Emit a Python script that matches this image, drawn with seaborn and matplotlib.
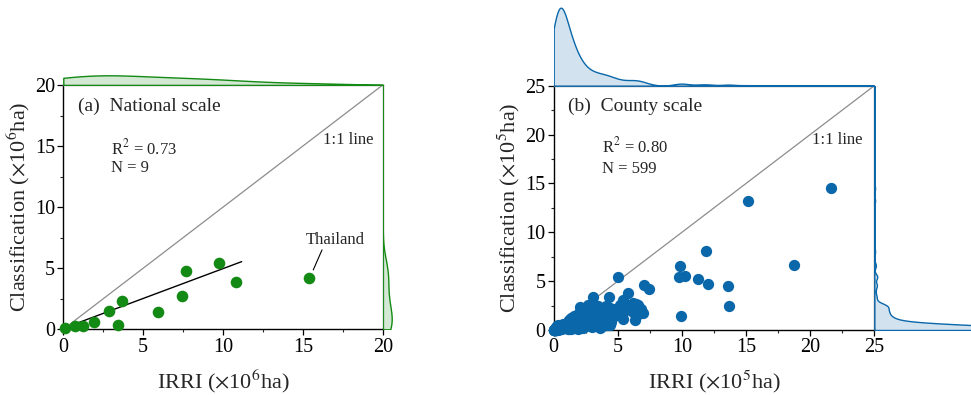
import numpy as np
import pandas as pd
import matplotlib
matplotlib.use("Agg")
import matplotlib.pyplot as plt
from matplotlib.ticker import MultipleLocator, AutoMinorLocator
import seaborn as sns

# ---------------- data ----------------
# (a) national scale (x10^6 ha)
nat_irri = [0.10, 0.73, 1.21, 1.90, 2.88, 3.40, 3.70, 5.93, 7.45, 7.70, 9.73, 10.83, 15.39]
nat_class = [0.10, 0.30, 0.30, 0.57, 1.53, 0.33, 2.32, 1.45, 2.70, 4.77, 5.40, 3.90, 4.17]
nat_fit_x = [0.0, 11.17]
nat_fit_y = [0.08, 5.54]
thai_label_xy = (17.0, 7.3)
thai_point = (15.65, 4.86)
thai_leader_start = (16.2, 6.5)

# (b) county scale (x10^5 ha) -- dense cluster near origin partly hidden under markers
cty_irri_a = [0.05, 0.08, 0.10, 0.12, 0.15, 0.17, 0.20, 0.22, 0.24, 0.26,
              0.28, 0.30, 0.31, 0.33, 0.35, 0.36, 0.38, 0.40, 0.41, 0.43,
              0.45, 0.47, 0.49, 0.51, 0.53, 0.55, 0.58, 0.60, 0.62, 0.65,
              0.25, 0.30, 0.34, 0.37, 0.42, 0.46, 0.29, 0.33, 0.39, 0.44,
              0.68, 0.71, 0.74, 0.77, 0.80, 0.83, 0.86, 0.90, 0.94, 0.98,
              0.21, 0.27, 0.32, 0.36, 0.48, 0.52, 0.57, 0.63, 0.70, 0.88]
cty_class_a = [0.03, 0.05, 0.04, 0.08, 0.06, 0.10, 0.09, 0.12, 0.07, 0.14,
               0.11, 0.16, 0.09, 0.18, 0.13, 0.20, 0.10, 0.22, 0.15, 0.12,
               0.25, 0.17, 0.28, 0.14, 0.30, 0.21, 0.24, 0.33, 0.19, 0.36,
               0.05, 0.08, 0.06, 0.11, 0.09, 0.13, 0.25, 0.28, 0.31, 0.35,
               0.40, 0.22, 0.45, 0.27, 0.50, 0.30, 0.38, 0.55, 0.33, 0.60,
               0.30, 0.38, 0.42, 0.47, 0.07, 0.10, 0.45, 0.52, 0.62, 0.20]
cty_irri_a2 = [0.02, 0.04, 0.06, 0.09, 0.11, 0.13, 0.14, 0.16, 0.18, 0.19,
               0.21, 0.23, 0.24, 0.26, 0.27, 0.29, 0.31, 0.32, 0.34, 0.35,
               0.37, 0.38, 0.39, 0.41, 0.43, 0.44, 0.46, 0.48, 0.50, 0.52,
               0.54, 0.56, 0.59, 0.61, 0.64, 0.66, 0.69, 0.72, 0.75, 0.79,
               0.03, 0.07, 0.12, 0.17, 0.22, 0.28, 0.33, 0.37, 0.42, 0.47,
               0.53, 0.58, 0.63, 0.67, 0.73, 0.78, 0.84, 0.91, 0.97, 1.05,
               0.15, 0.20, 0.25, 0.30, 0.35, 0.40, 0.45, 0.50, 0.55, 0.60,
               0.26, 0.31, 0.36, 0.28, 0.34, 0.23, 0.38, 0.43, 0.19, 0.32]
cty_class_a2 = [0.01, 0.02, 0.03, 0.04, 0.05, 0.04, 0.06, 0.07, 0.05, 0.08,
                0.09, 0.07, 0.10, 0.08, 0.12, 0.11, 0.09, 0.13, 0.12, 0.15,
                0.14, 0.10, 0.17, 0.16, 0.13, 0.19, 0.18, 0.15, 0.21, 0.20,
                0.23, 0.17, 0.25, 0.22, 0.28, 0.24, 0.30, 0.27, 0.33, 0.29,
                0.02, 0.03, 0.06, 0.09, 0.11, 0.14, 0.16, 0.19, 0.21, 0.24,
                0.26, 0.29, 0.31, 0.35, 0.37, 0.40, 0.42, 0.46, 0.50, 0.55,
                0.04, 0.05, 0.07, 0.08, 0.06, 0.10, 0.11, 0.12, 0.09, 0.14,
                0.18, 0.20, 0.22, 0.15, 0.17, 0.13, 0.24, 0.26, 0.10, 0.21]
cty_irri_b = [1.00, 1.05, 1.10, 1.12, 1.18, 1.22, 1.25, 1.30, 1.33, 1.38,
              1.40, 1.45, 1.50, 1.52, 1.58, 1.62, 1.65, 1.70, 1.75, 1.78,
              1.82, 1.88, 1.92, 1.95, 2.00, 2.05, 2.10, 2.15, 2.20, 2.25,
              2.30, 2.35, 2.40, 2.45, 1.15, 1.35, 1.55, 1.72, 1.90, 2.08,
              2.28, 1.28, 1.68, 2.12, 2.42]
cty_class_b = [0.20, 0.55, 0.85, 0.35, 1.05, 0.15, 0.60, 0.90, 0.40, 1.25,
               0.25, 0.70, 1.10, 0.45, 1.40, 0.30, 0.80, 1.20, 0.50, 1.55,
               0.35, 0.95, 1.30, 0.60, 1.75, 0.40, 1.05, 1.45, 0.70, 1.90,
               0.30, 1.15, 1.60, 0.80, 0.10, 0.12, 0.18, 0.22, 0.15, 0.20,
               0.25, 0.70, 0.55, 2.30, 2.05]
cty_irri_b2 = [1.02, 1.04, 1.08, 1.11, 1.14, 1.17, 1.20, 1.23, 1.27, 1.31,
               1.34, 1.37, 1.41, 1.44, 1.48, 1.51, 1.55, 1.60, 1.63, 1.67,
               1.06, 1.19, 1.29, 1.42, 1.57]
cty_class_b2 = [0.30, 0.45, 0.25, 0.50, 0.38, 0.62, 0.28, 0.48, 0.70, 0.35,
                0.55, 0.42, 0.75, 0.32, 0.60, 0.40, 0.85, 0.50, 0.65, 0.45,
                0.70, 0.80, 0.95, 0.58, 0.36]
cty_irri_c = [2.50, 2.55, 2.62, 2.70, 2.75, 2.82, 2.88, 2.95, 3.00, 3.08,
              3.15, 3.20, 3.28, 3.35, 3.42, 3.50, 3.58, 3.65, 3.72, 3.80,
              3.88, 3.95, 4.05, 4.12, 4.20, 4.30, 4.40, 2.65, 3.10, 3.60]
cty_class_c = [0.40, 1.30, 2.10, 0.70, 1.60, 2.40, 1.00, 0.30, 1.90, 0.60,
               2.20, 1.20, 0.45, 1.75, 2.50, 0.90, 1.40, 0.35, 2.00, 1.10,
               0.60, 1.70, 2.45, 0.50, 1.30, 0.80, 2.30, 2.55, 2.60, 0.25]
cty_irri_d = [4.99, 3.04, 4.34, 5.82, 7.04, 7.46, 2.03, 5.43, 5.17, 6.42,
              6.60, 6.94, 6.20, 5.38, 6.34, 4.65, 3.87, 4.50, 4.80, 5.00,
              5.60, 6.50, 4.40, 5.90, 6.80, 4.60, 6.20]
cty_class_d = [5.46, 3.40, 3.35, 3.75, 4.60, 4.16, 2.39, 3.07, 2.56, 2.66,
               2.56, 1.77, 1.87, 1.09, 1.02, 1.30, 1.87, 0.85, 2.20, 1.60,
               2.00, 1.50, 0.50, 2.40, 2.20, 1.90, 2.73]
cty_irri_out = [15.16, 21.60, 11.90, 9.85, 18.70, 9.77, 10.20, 11.28, 12.06, 13.60, 13.65, 9.95]
cty_class_out = [13.24, 14.50, 8.05, 6.55, 6.65, 5.46, 5.56, 5.25, 4.67, 4.54, 2.49, 1.40]

cty_irri = (cty_irri_a + cty_irri_a2 + cty_irri_b + cty_irri_b2 + cty_irri_c
            + cty_irri_d + cty_irri_out)
cty_class = (cty_class_a + cty_class_a2 + cty_class_b + cty_class_b2 + cty_class_c
             + cty_class_d + cty_class_out)

nat = pd.DataFrame({"irri": nat_irri, "cls": nat_class})
cty = pd.DataFrame({"irri": cty_irri, "cls": cty_class})

# ---------------- style ----------------
sns.set_style("ticks")
plt.rcParams["font.family"] = ["Liberation Serif", "DejaVu Serif"]
plt.rcParams["mathtext.fontset"] = "stix"

GREEN = "#138a13"
BLUE = "#0a67aa"
GREY = "#8c8c8c"

W, H = 971, 395
fig = plt.figure(figsize=(W / 100, H / 100), dpi=100)


def fx(px):
    return px / W


def fy(py):
    return 1 - py / H


def px_axes(x0, x1, ytop, ybot):
    return fig.add_axes([fx(x0), fy(ybot), fx(x1) - fx(x0), fy(ytop) - fy(ybot)])


def style_main(ax, lim):
    ax.set_xlim(0, lim)
    ax.set_ylim(0, lim)
    ax.xaxis.set_major_locator(MultipleLocator(5))
    ax.yaxis.set_major_locator(MultipleLocator(5))
    ax.xaxis.set_minor_locator(AutoMinorLocator(2))
    ax.yaxis.set_minor_locator(AutoMinorLocator(2))
    ax.tick_params(which="major", direction="out", length=4, width=0.9,
                   labelsize=14.5, pad=2, colors="black")
    ax.tick_params(which="minor", direction="out", length=2.5, width=0.8)
    for s in ("left", "bottom"):
        ax.spines[s].set_color("black")
        ax.spines[s].set_linewidth(1.0)
    for s in ("top", "right"):
        ax.spines[s].set_visible(True)
        ax.spines[s].set_color(GREY)
        ax.spines[s].set_linewidth(1.0)
    ax.axline((0, 0), slope=1, color=GREY, lw=0.9, zorder=1)


def labels(ax, unit_exp):
    ax.set_xlabel(r"IRRI ($\times$10$^{%d}$ha)" % unit_exp, fontsize=16, labelpad=8)
    ax.set_ylabel(r"Classification ($\times$10$^{%d}$ha)" % unit_exp, fontsize=16, labelpad=2)


def fill_vertices(ax):
    return np.concatenate([p.vertices for c in ax.collections for p in c.get_paths()])


# ---------------- panel (a) ----------------
axa = px_axes(63.3, 382.7, 85.0, 329.3)
style_main(axa, 20)
sns.scatterplot(data=nat, x="irri", y="cls", ax=axa, color=GREEN, s=70,
                linewidth=0, zorder=3, clip_on=False)
sns.lineplot(x=nat_fit_x, y=nat_fit_y, ax=axa, color="black", lw=1.0, zorder=2)
labels(axa, 6)
axa.text(0.047, 0.914, "(a)  National scale", transform=axa.transAxes,
         fontsize=14, va="center", ha="left")
axa.text(3.0, 14.85, r"R$^2$ = 0.73", fontsize=12, va="center", ha="left")
axa.text(3.0, 13.2, "N = 9", fontsize=12, va="center", ha="left")
axa.text(17.85, 15.5, "1:1 line", fontsize=12, va="center", ha="center")
axa.text(*thai_label_xy, "Thailand", fontsize=12, va="center", ha="center")
axa.annotate("", xy=thai_point, xytext=thai_leader_start,
             arrowprops=dict(arrowstyle="-", color="black", lw=0.8,
                             shrinkA=0, shrinkB=0))

# marginals (a)
a_top = px_axes(63.3, 382.7, 55.0, 85.0)
a_right = px_axes(382.7, 407.7, 85.0, 329.3)
kw_a = dict(fill=True, color=GREEN, linewidth=1.0, alpha=0.18, cut=20,
            clip=(0, 20), gridsize=500)
sns.kdeplot(data=nat, x="irri", ax=a_top, **kw_a)
sns.kdeplot(data=nat, y="cls", ax=a_right, **kw_a)
a_top.set_xlim(0, 20)
a_right.set_ylim(0, 20)
a_top.set_ylim(0, fill_vertices(a_top)[:, 1].max() * 30.0 / 9.7)
a_right.set_xlim(0, fill_vertices(a_right)[:, 0].max() * 25.0 / 9.0)
a_top.set_axis_off()
a_right.set_axis_off()

# ---------------- panel (b) ----------------
axb = px_axes(553.7, 874.3, 85.7, 330.0)
style_main(axb, 25)
sns.scatterplot(data=cty, x="irri", y="cls", ax=axb, color=BLUE, s=66,
                linewidth=0, zorder=3, clip_on=False)
labels(axb, 5)
axb.text(0.046, 0.917, "(b)  County scale", transform=axb.transAxes,
         fontsize=14, va="center", ha="left")
axb.text(3.8, 18.8, r"R$^2$ = 0.80", fontsize=12, va="center", ha="left")
axb.text(3.8, 16.5, "N = 599", fontsize=12, va="center", ha="left")
axb.text(22.1, 19.45, "1:1 line", fontsize=12, va="center", ha="center")

b_top = px_axes(553.7, 874.3, 0.0, 85.7)
b_right = px_axes(874.3, 971.0, 85.7, 330.0)
kw_b = dict(fill=True, color=BLUE, linewidth=1.0, alpha=0.18, cut=60,
            clip=(0, 25), gridsize=800)
sns.kdeplot(data=cty, x="irri", ax=b_top, bw_adjust=0.6, **kw_b)
sns.kdeplot(data=cty, y="cls", ax=b_right, bw_adjust=0.5, **kw_b)
b_top.set_xlim(0, 25)
b_right.set_ylim(0, 25)
b_top.set_ylim(0, fill_vertices(b_top)[:, 1].max() * 85.7 / 78.0)
b_right.set_xlim(0, fill_vertices(b_right)[:, 0].max() * 96.7 / 130.0)
b_top.set_axis_off()
b_right.set_axis_off()

fig.savefig("out.png", dpi=100)
